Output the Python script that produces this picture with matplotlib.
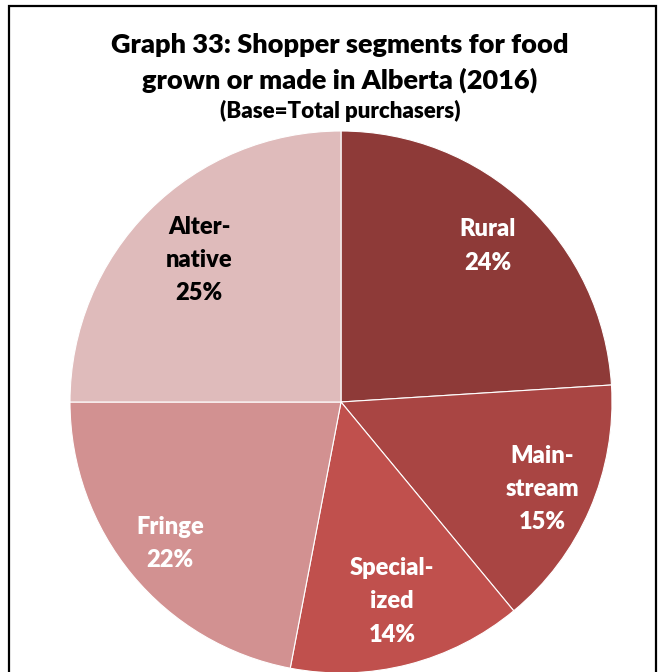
import matplotlib
matplotlib.use("Agg")
import numpy as np
import matplotlib.pyplot as plt
from matplotlib.patches import Rectangle

# Shopper segment shares (percent), clockwise from 12 o'clock
segments = ["Rural", "Main-\nstream", "Special-\nized", "Fringe", "Alter-\nnative"]
shares = [24, 15, 14, 22, 25]
colors = ["#8E3A38", "#A94543", "#C0504D", "#D29191", "#DFBBBB"]
text_colors = ["white", "white", "white", "white", "black"]
label_radius = [0.79, 0.81, 0.76, 0.82, 0.74]

title_lines = ["Graph 33: Shopper segments for food", "grown or made in Alberta (2016)"]
subtitle = "(Base=Total purchasers)"

plt.rcParams["font.family"] = ["Lato", "DejaVu Sans"]

W, H, DPI = 661, 672, 100
fig = plt.figure(figsize=(W / DPI, H / DPI), dpi=DPI)
fig.patch.set_facecolor("white")

# pie axes: centre (341, 402) px, radius 271 px
cx, cy, r = 341, 402, 271
ax = fig.add_axes([(cx - r) / W, (H - cy - r) / H, 2 * r / W, 2 * r / H])
labels = [f"{s}\n{v}%" for s, v in zip(segments, shares)]
wedges, texts = ax.pie(
    shares,
    labels=labels,
    colors=colors,
    startangle=90,
    counterclock=False,
    radius=1,
    labeldistance=0.79,
    wedgeprops=dict(edgecolor="white", linewidth=0.8),
    textprops=dict(fontsize=17, fontweight="heavy", ha="center", va="center",
                   linespacing=1.62),
)
for w, t, c, d in zip(wedges, texts, text_colors, label_radius):
    mid = np.deg2rad((w.theta1 + w.theta2) / 2)
    t.set_position((d * np.cos(mid), d * np.sin(mid)))
    t.set_color(c)
    t.set_horizontalalignment("center")
    t.set_verticalalignment("center")
ax.set_xlim(-1, 1)
ax.set_ylim(-1, 1)
ax.set_aspect("equal")
ax.axis("off")

# titles
fig.text(340 / W, 1 - 45 / H, title_lines[0], ha="center", va="center",
         fontsize=19.5, fontweight="heavy", color="black")
fig.text(340 / W, 1 - 80 / H, title_lines[1], ha="center", va="center",
         fontsize=19.5, fontweight="heavy", color="black")
fig.text(340 / W, 1 - 111 / H, subtitle, ha="center", va="center",
         fontsize=16, fontweight="heavy", color="black")

# outer frame (continues below the bottom edge)
frame = Rectangle((9 / W, -0.1), (656 - 9) / W, 1.1 - 6 / H,
                  transform=fig.transFigure, fill=False,
                  edgecolor="black", linewidth=1.6, clip_on=False)
fig.add_artist(frame)

fig.savefig("out.png", dpi=DPI, facecolor="white")
